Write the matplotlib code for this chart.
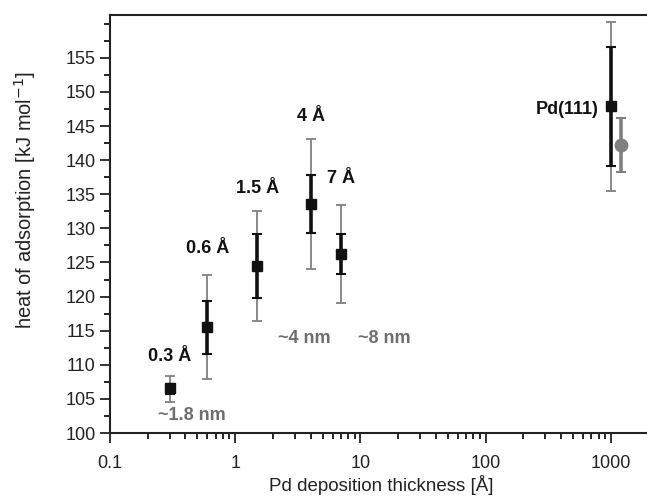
import numpy as np
import matplotlib.pyplot as plt
from matplotlib.ticker import MultipleLocator, LogLocator, NullFormatter

plt.rcParams['font.family'] = ['Liberation Sans', 'DejaVu Sans']

# Pd islands: deposition thickness [A] vs heat of adsorption
thickness = [0.3, 0.6, 1.5, 4, 7, 1000]
heat = [106.6, 115.6, 124.5, 133.6, 126.3, 147.9]
black_lo = [105.7, 111.6, 119.8, 129.3, 123.3, 139.2]
black_hi = [107.2, 119.4, 129.2, 137.8, 129.2, 156.6]
grey_lo = [104.5, 107.9, 116.4, 124.1, 119.1, 135.5]
grey_hi = [108.3, 123.2, 132.6, 143.1, 133.4, 160.2]
labels = ["0.3 Å", "0.6 Å", "1.5 Å", "4 Å", "7 Å"]
label_y = [110.0, 125.8, 134.6, 145.2, 136.0]

# second Pd(111) value (grey circle)
ref_x = [1200]
ref_y = [142.2]
ref_lo = [138.3]
ref_hi = [146.2]

size_labels = ["~1.8 nm", "~4 nm", "~8 nm"]
size_x = [0.45, 3.6, 15.5]
size_y = [102.6, 113.9, 113.9]

heat = np.array(heat)
black_err = [heat - np.array(black_lo), np.array(black_hi) - heat]
grey_err = [heat - np.array(grey_lo), np.array(grey_hi) - heat]

fig = plt.figure(figsize=(6.47, 4.96), dpi=100)
ax = fig.add_axes([0.170, 0.127, 0.830, 0.843])

ax.errorbar(thickness, heat, yerr=grey_err, fmt='none', ecolor='#808080',
            elinewidth=1.3, capsize=3.5, capthick=1.3)
ax.errorbar(thickness, heat, yerr=black_err, fmt='s', color='#111111', ms=7,
            ecolor='#111111', elinewidth=2.6, capsize=3.5, capthick=1.5)
ref_y = np.array(ref_y)
ax.errorbar(ref_x, ref_y, yerr=[ref_y - np.array(ref_lo), np.array(ref_hi) - ref_y],
            fmt='o', color='#808080', ms=9, ecolor='#808080', elinewidth=2.6,
            capsize=3.5, capthick=1.5)

for x, y, t in zip(thickness, label_y, labels):
    ax.text(x, y, t, ha='center', va='bottom', fontsize=13, fontweight='bold',
            color='#111111')
ax.text(800, 147.4, "Pd(111)", ha='right', va='center', fontsize=13,
        fontweight='bold', color='#111111')
for x, y, t in zip(size_x, size_y, size_labels):
    ax.text(x, y, t, ha='center', va='center', fontsize=13, fontweight='bold',
            color='#6e6e6e')

ax.set_xscale('log')
ax.set_xlim(0.1, 1950)
ax.set_ylim(100, 161.3)
ax.set_xticks([0.1, 1, 10, 100, 1000])
ax.set_xticklabels(["0.1", "1", "10", "100", "1000"])
ax.xaxis.set_minor_locator(LogLocator(base=10, subs=np.arange(2, 10), numticks=20))
ax.xaxis.set_minor_formatter(NullFormatter())
ax.set_yticks(np.arange(100, 156, 5))
ax.yaxis.set_minor_locator(MultipleLocator(2.5))

ax.spines['right'].set_visible(False)
for s in ['left', 'bottom', 'top']:
    ax.spines[s].set_linewidth(1.5)
    ax.spines[s].set_color('#222222')
ax.tick_params(which='major', direction='out', length=7, width=1.3, labelsize=13,
               colors='#222222', top=False, right=False)
ax.tick_params(axis='x', which='major', pad=9)
ax.tick_params(which='minor', direction='out', length=4, width=1.2, top=False, right=False)

ax.set_xlabel("Pd deposition thickness [Å]", fontsize=13.5, color='#222222', va='center')
ax.xaxis.set_label_coords(0.505, -0.124)
ax.set_ylabel("heat of adsorption [kJ mol$^{-1}$]", fontsize=14.5, color='#222222')
ax.yaxis.set_label_coords(-0.134, 0.557)

fig.savefig("out.png", dpi=100)
